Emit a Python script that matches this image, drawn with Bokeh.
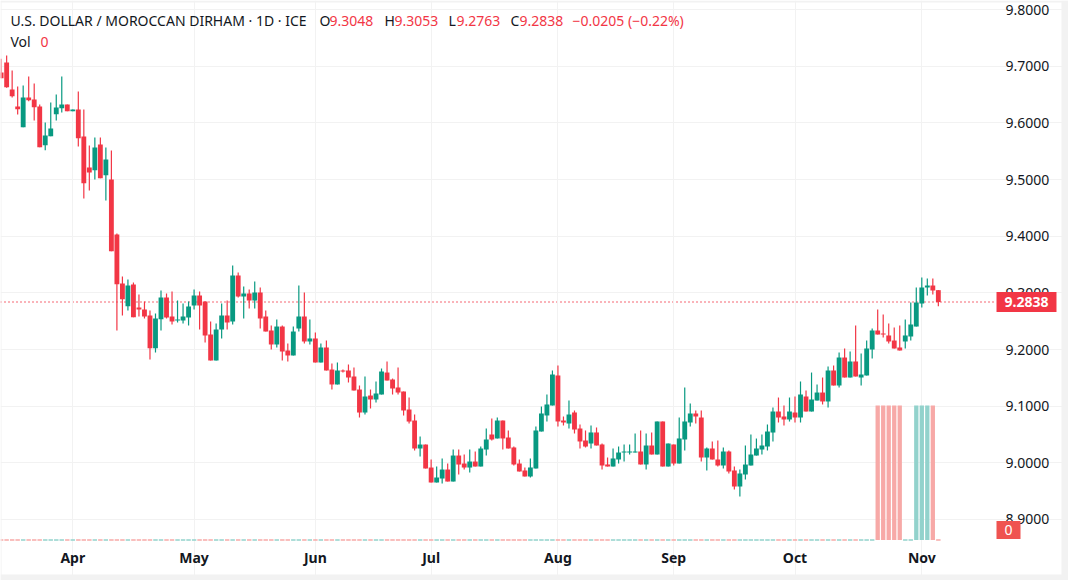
from bokeh.embed import file_html
from bokeh.models import BoxAnnotation, ColumnDataSource, FixedTicker, Label, NumeralTickFormatter, Range1d
from bokeh.plotting import figure
from bokeh.resources import INLINE

# USD/MAD daily candles
opens = [9.6890, 9.7067, 9.6590, 9.6290, 9.5925, 9.6449, 9.6414, 9.6290, 9.5607, 9.5766,
         9.6155, 9.6261, 9.6325, 9.6208, 9.6237, 9.5760, 9.5213, 9.5166, 9.5619, 9.5078,
         9.5001, 9.4030, 9.3165, 9.2765, 9.3148, 9.2742, 9.2707, 9.2601, 9.2024, 9.2536,
         9.2918, 9.2583, 9.2512, 9.2512, 9.2565, 9.2777, 9.2954, 9.2848, 9.2265, 9.1806,
         9.2353, 9.2601, 9.2495, 9.3307, 9.2936, 9.2989, 9.2865, 9.3007, 9.2583, 9.2336,
         9.2089, 9.2406, 9.1983, 9.1895, 9.2371, 9.2583, 9.2142, 9.2195, 9.1771, 9.2036,
         9.1647, 9.1383, 9.1630, 9.1630, 9.1524, 9.1294, 9.0888, 9.1188, 9.1118, 9.1206,
         9.1594, 9.1471, 9.1330, 9.1259, 9.0941, 9.0747, 9.0253, 9.0323, 8.9917, 8.9653,
         8.9723, 8.9882, 8.9670, 9.0129, 8.9988, 8.9917, 9.0023, 8.9935, 9.0235, 9.0500,
         9.0430, 9.0747, 9.0447, 9.0271, 8.9988, 8.9865, 8.9759, 8.9900, 9.0553, 9.0836,
         9.1012, 9.1542, 9.0747, 9.0694, 9.0889, 9.0606, 9.0394, 9.0341, 9.0536, 9.0324,
         8.9971, 8.9935, 9.0059, 9.0182, 9.0182, 9.0182, 9.0200, 8.9971, 9.0306, 9.0147,
         9.0730, 8.9935, 9.0324, 8.9988, 9.0412, 9.0712, 9.0871, 9.0800, 9.0094, 9.0253,
         9.0059, 8.9953, 9.0200, 8.9865, 8.9582, 8.9794, 8.9953, 9.0129, 9.0235, 9.0288,
         9.0535, 9.0906, 9.0818, 9.0765, 9.0888, 9.0800, 9.1171, 9.0906, 9.1100, 9.1241,
         9.1083, 9.1630, 9.1365, 9.1859, 9.1506, 9.1789, 9.1506, 9.1542, 9.2000, 9.2336,
         9.2283, 9.2248, 9.2159, 9.2036, 9.2142, 9.2230, 9.2406, 9.2812, 9.3095, 9.3130,
         9.3048]
highs = [9.7131, 9.7190, 9.6925, 9.6643, 9.6661, 9.6820, 9.6696, 9.6325, 9.6008, 9.6361,
         9.6502, 9.6820, 9.6325, 9.6237, 9.6555, 9.6237, 9.5602, 9.5743, 9.5743, 9.5566,
         9.5513, 9.4048, 9.3289, 9.3236, 9.3183, 9.2971, 9.2848, 9.2689, 9.2636, 9.3042,
         9.2989, 9.3024, 9.2865, 9.2813, 9.2848, 9.3060, 9.3024, 9.2848, 9.2495, 9.2459,
         9.2813, 9.2865, 9.3483, 9.3360, 9.3113, 9.3060, 9.3201, 9.3095, 9.2689, 9.2424,
         9.2530, 9.2424, 9.2106, 9.2406, 9.3130, 9.3007, 9.2530, 9.2301, 9.2106, 9.2159,
         9.1753, 9.1771, 9.1647, 9.1736, 9.1683, 9.1365, 9.1524, 9.1294, 9.1436, 9.1665,
         9.1789, 9.1488, 9.1683, 9.1259, 9.1153, 9.0853, 9.0465, 9.0323, 9.0059, 8.9935,
         9.0076, 8.9988, 9.0235, 9.0235, 9.0147, 9.0235, 9.0200, 9.0288, 9.0606, 9.0783,
         9.0800, 9.0747, 9.0571, 9.0288, 9.0059, 8.9918, 9.0077, 9.0641, 9.0994, 9.1206,
         9.1630, 9.1718, 9.0818, 9.1100, 9.0924, 9.0677, 9.0571, 9.0659, 9.0624, 9.0341,
         9.0094, 9.0253, 9.0288, 9.0324, 9.0324, 9.0518, 9.0571, 9.0518, 9.0536, 9.0730,
         9.0730, 9.0341, 9.0324, 9.0800, 9.1330, 9.1047, 9.0924, 9.0924, 9.0271, 9.0377,
         9.0394, 9.0271, 9.0218, 8.9935, 8.9882, 9.0306, 9.0500, 9.0429, 9.0500, 9.0677,
         9.0977, 9.1153, 9.1012, 9.1153, 9.1171, 9.1436, 9.1277, 9.1594, 9.1383, 9.1506,
         9.1700, 9.1718, 9.1948, 9.2018, 9.1965, 9.2424, 9.1930, 9.2159, 9.2371, 9.2707,
         9.2618, 9.2459, 9.2389, 9.2424, 9.2530, 9.2830, 9.3095, 9.3271, 9.3254, 9.3254,
         9.3053]
lows = [9.6790, 9.6619, 9.6449, 9.6149, 9.5925, 9.6384, 9.6043, 9.5572, 9.5519, 9.5766,
        9.6043, 9.6184, 9.6208, 9.6208, 9.5584, 9.4666, 9.4807, 9.5001, 9.5025, 9.4631,
        9.3736, 9.2336, 9.2601, 9.2689, 9.2571, 9.2583, 9.2548, 9.1824, 9.1947, 9.2336,
        9.2548, 9.2442, 9.2477, 9.2459, 9.2424, 9.2707, 9.2353, 9.2124, 9.1806, 9.1806,
        9.2195, 9.2353, 9.2442, 9.2918, 9.2548, 9.2724, 9.2724, 9.2371, 9.2318, 9.2000,
        9.2036, 9.1806, 9.1789, 9.1895, 9.2318, 9.2106, 9.2089, 9.1771, 9.1771, 9.1630,
        9.1294, 9.1383, 9.1594, 9.1418, 9.1277, 9.0800, 9.0853, 9.0959, 9.1065, 9.1206,
        9.1453, 9.1206, 9.1206, 9.0835, 9.0694, 9.0218, 9.0112, 8.9900, 8.9653, 8.9653,
        8.9635, 8.9670, 8.9670, 8.9794, 8.9882, 8.9829, 8.9935, 8.9935, 9.0130, 9.0394,
        9.0430, 9.0235, 9.0253, 8.9953, 8.9847, 8.9759, 8.9741, 8.9900, 9.0553, 9.0730,
        9.1012, 9.0641, 9.0659, 9.0606, 9.0518, 9.0253, 9.0271, 9.0253, 9.0306, 8.9882,
        8.9935, 8.9935, 8.9988, 9.0024, 9.0147, 9.0182, 8.9971, 8.9882, 9.0147, 9.0147,
        8.9935, 8.9935, 8.9953, 8.9988, 9.0218, 9.0641, 9.0694, 9.0024, 8.9865, 9.0059,
        8.9935, 8.9900, 8.9812, 8.9529, 8.9406, 8.9706, 8.9953, 9.0129, 9.0147, 9.0218,
        9.0376, 9.0712, 9.0659, 9.0729, 9.0712, 9.0712, 9.0906, 9.0906, 9.1100, 9.1030,
        9.0977, 9.1365, 9.1330, 9.1506, 9.1506, 9.1524, 9.1365, 9.1542, 9.1842, 9.2265,
        9.2212, 9.2106, 9.2018, 9.1983, 9.2018, 9.2159, 9.2406, 9.2742, 9.2954, 9.2971,
        9.2763]
closes = [9.6790, 9.6631, 9.6472, 9.6243, 9.6449, 9.6402, 9.6278, 9.5572, 9.5778, 9.5902,
          9.6272, 9.6325, 9.6208, 9.6237, 9.5731, 9.4937, 9.5125, 9.5566, 9.5025, 9.5354,
          9.3736, 9.3154, 9.2889, 9.3130, 9.2571, 9.2707, 9.2583, 9.2024, 9.2548, 9.2918,
          9.2565, 9.2495, 9.2530, 9.2583, 9.2760, 9.2954, 9.2777, 9.2248, 9.1806, 9.2353,
          9.2601, 9.2477, 9.3307, 9.2936, 9.2989, 9.2865, 9.3007, 9.2548, 9.2318, 9.2089,
          9.2406, 9.1965, 9.1895, 9.2318, 9.2583, 9.2142, 9.2195, 9.1771, 9.2036, 9.1630,
          9.1383, 9.1630, 9.1612, 9.1506, 9.1277, 9.0888, 9.1171, 9.1118, 9.1224, 9.1612,
          9.1453, 9.1312, 9.1241, 9.0924, 9.0729, 9.0253, 9.0323, 8.9900, 8.9653, 8.9741,
          8.9882, 8.9670, 9.0129, 8.9970, 8.9917, 9.0023, 8.9935, 9.0253, 9.0412, 9.0412,
          9.0747, 9.0430, 9.0253, 8.9971, 8.9847, 8.9759, 8.9918, 9.0571, 9.0871, 9.1030,
          9.1559, 9.0730, 9.0712, 9.0853, 9.0588, 9.0377, 9.0288, 9.0536, 9.0306, 8.9953,
          8.9935, 9.0077, 9.0182, 9.0200, 9.0200, 9.0200, 8.9971, 9.0306, 9.0147, 9.0730,
          8.9935, 9.0341, 8.9988, 9.0430, 9.0730, 9.0871, 9.0818, 9.0094, 9.0253, 9.0059,
          8.9953, 9.0200, 8.9847, 8.9582, 8.9812, 8.9970, 9.0147, 9.0253, 9.0306, 9.0553,
          9.0906, 9.0800, 9.0765, 9.0906, 9.0800, 9.1206, 9.0906, 9.1118, 9.1241, 9.1083,
          9.1630, 9.1365, 9.1859, 9.1506, 9.1789, 9.1524, 9.1559, 9.2018, 9.2336, 9.2265,
          9.2265, 9.2142, 9.2018, 9.1983, 9.2248, 9.2442, 9.2830, 9.3095, 9.3130, 9.3042,
          9.2838]
volumes = [0] * 159 + [1, 1, 1, 1, 1, 0, 0, 1, 1, 1, 1, 0]

price_ticks = [8.9, 9.0, 9.1, 9.2, 9.3, 9.4, 9.5, 9.6, 9.7, 9.8]
month_bars = [13, 35, 57, 78, 101, 122, 144, 167]
month_labels = ["Apr", "May", "Jun", "Jul", "Aug", "Sep", "Oct", "Nov"]
last_price = 9.2838

UP, DOWN = "#089981", "#f23645"
FONT = "Noto Sans"
TEXT = "#131722"
EDGE = "#f2f2f2"

# the pane ends here, the axes sit at these spots inside the full size frame
PANE_RIGHT = 180.37
PANE_BOTTOM = 8.8629

bars = list(range(len(opens)))
colors = [DOWN if c < o else UP for o, c in zip(opens, closes)]
vol_colors = ["#f7a9a7" if c < o else "#92d2cc" for o, c in zip(opens, closes)]
source = ColumnDataSource(data=dict(bar=bars, o=opens, h=highs, l=lows, c=closes, color=colors,
                                    vol=volumes, vol_color=vol_colors,
                                    vol_line=[0 if v else 1 for v in volumes]))

p = figure(width=1068, height=580, output_backend="svg", toolbar_location=None, tools="",
           x_range=Range1d(-0.114, 193.61), y_range=Range1d(8.7923, 9.8161),
           y_axis_location="right", min_border=0, outline_line_color=None)
p.extra_y_ranges = {"vol": Range1d(-0.3011, 4.011)}

p.grid.grid_line_color = "#f2f2f2"
p.ygrid.bounds = (-0.114, PANE_RIGHT)
p.xgrid.bounds = (PANE_BOTTOM, 9.8161)
p.axis.axis_line_color = None
p.axis.major_tick_line_color = None
p.axis.minor_tick_line_color = None
p.axis.major_tick_out = 0
p.axis.major_label_text_color = TEXT
p.axis.major_label_text_font = FONT
p.axis.major_label_text_font_size = "14px"
p.yaxis.major_label_standoff = 10
p.xaxis.major_label_standoff = 7
p.yaxis.fixed_location = PANE_RIGHT
p.xaxis.fixed_location = PANE_BOTTOM
p.yaxis.ticker = FixedTicker(ticks=price_ticks)
p.yaxis.formatter = NumeralTickFormatter(format="0.0000")
p.xaxis.ticker = FixedTicker(ticks=month_bars)
p.xaxis.major_label_overrides = dict(zip(month_bars, month_labels))
p.xaxis.major_label_text_font_style = "bold"

# volume under the candles, zero volume still shows as a thin dash
p.vbar("bar", top="vol", bottom=0, width=0.78, y_range_name="vol", source=source,
       fill_color="vol_color", line_color="vol_color", line_alpha="vol_line", line_width=1)

p.segment("bar", "h", "bar", "l", color="color", line_width=1.2, source=source)
p.vbar("bar", top="o", bottom="c", width=0.88, fill_color="color", line_color=None, source=source)

# last price line
p.segment([-0.114], [last_price], [PANE_RIGHT], [last_price], line_color=DOWN, line_width=1.5,
          line_dash="1 3", level="underlay")

def text(x, y, s, color=TEXT):
    p.add_layout(Label(x=x, y=y, x_units="screen", y_units="screen", text=s, text_color=color,
                       text_font=FONT, text_font_size="14px", text_baseline="middle"))

text(10, 560, "U.S. DOLLAR / MOROCCAN DIRHAM · 1D · ICE")
for x, s in [(319, "O"), (384, "H"), (448, "L"), (510, "C")]:
    text(x, 560, s)
for x, s in [(329, "9.3048"), (394, "9.3053"), (456, "9.2763"), (519, "9.2838"), (572, "−0.0205 (−0.22%)")]:
    text(x, 560, s, DOWN)
text(10, 539, "Vol")
text(40, 539, "0", DOWN)

# value boxes on the price axis
p.add_layout(Label(x=1026, y=last_price, x_units="screen", text="9.2838", text_color="white",
                   text_font=FONT, text_font_size="14px", text_font_style="bold",
                   text_align="center", text_baseline="middle",
                   background_fill_color=DOWN, padding=(8, 5)))
p.add_layout(Label(x=1008, y=0, y_range_name="vol", y_offset=10, x_units="screen", text="0",
                   text_color="white", text_font=FONT, text_font_size="14px",
                   text_align="center", text_baseline="middle",
                   background_fill_color="#ef5350", padding=(8, 4)))

# grey edge of the page
for left, right, top, bottom in [(1061, 1068, 0, 580), (0, 1068, 574, 580), (0, 1068, 0, 2), (0, 1, 0, 580)]:
    p.add_layout(BoxAnnotation(left=left, right=right, top=top, bottom=bottom, left_units="canvas",
                               right_units="canvas", top_units="canvas", bottom_units="canvas",
                               fill_color=EDGE, fill_alpha=1, line_color=None))

open("out.html", "w").write(file_html(p, INLINE))
